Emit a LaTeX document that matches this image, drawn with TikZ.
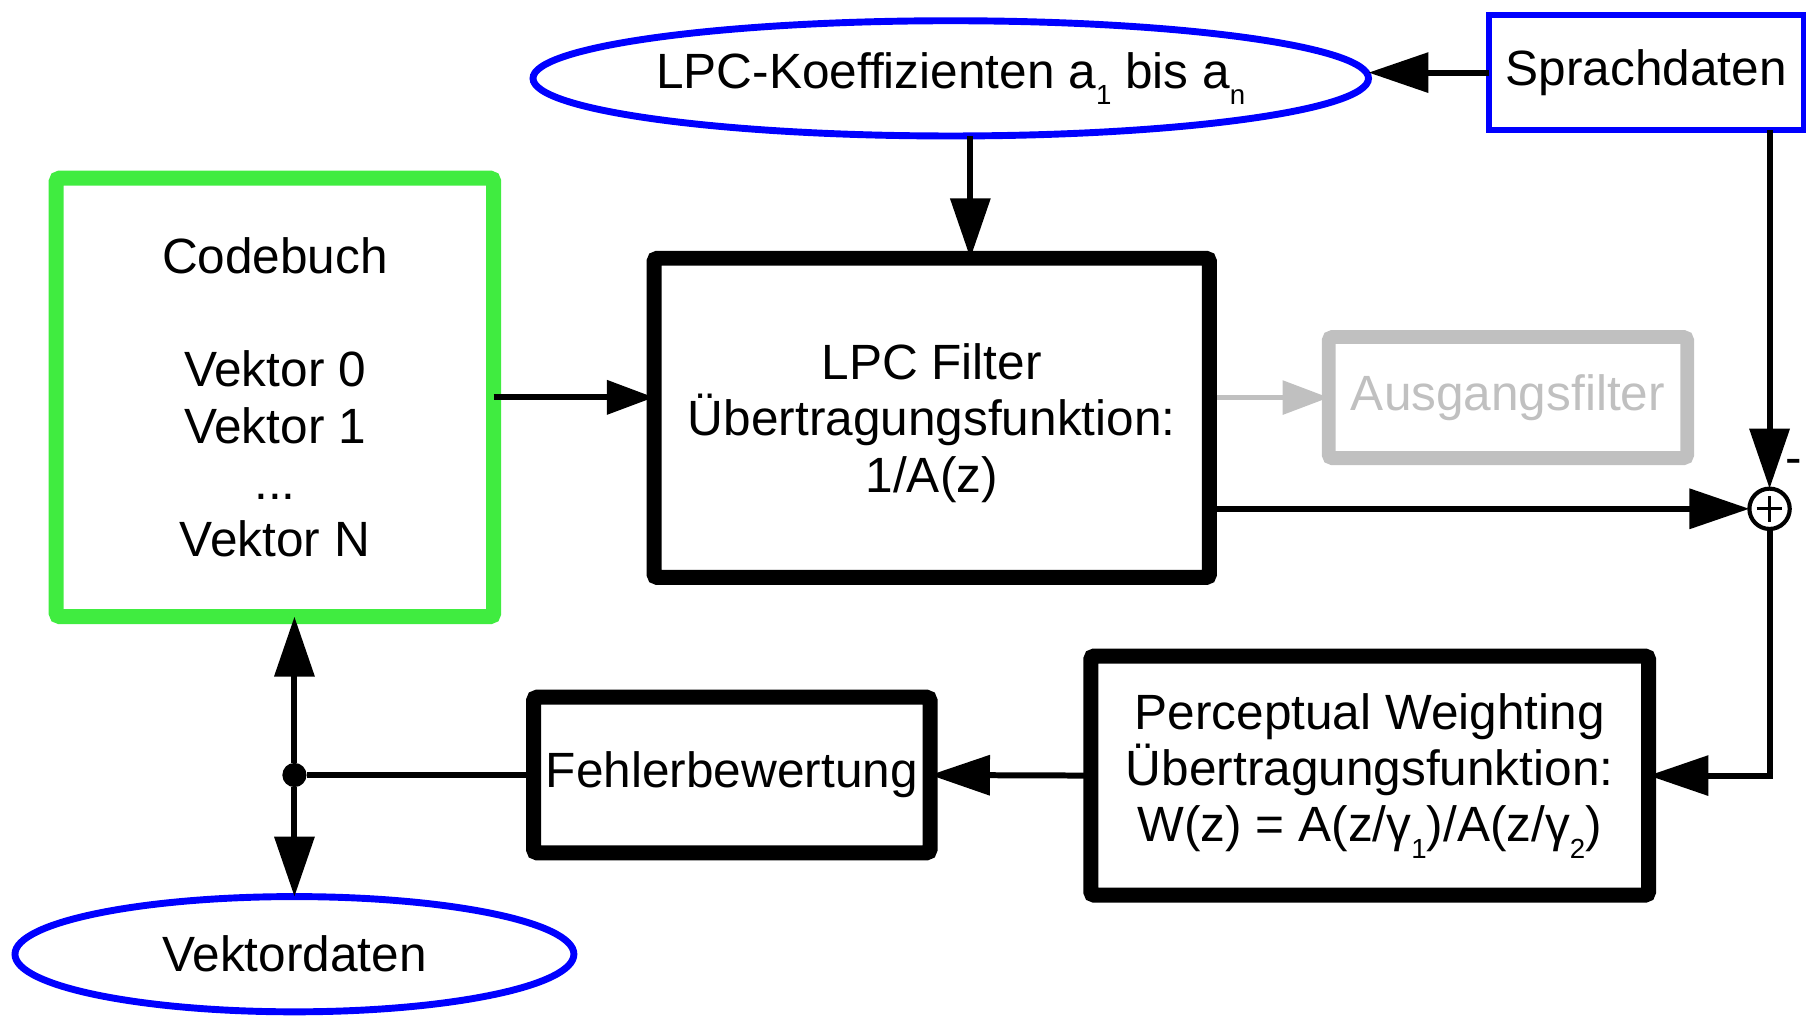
\documentclass[tikz,border=0pt]{standalone}
\usepackage{fontspec}
\setmainfont[Ligatures=NoCommon]{Liberation Sans}
\usetikzlibrary{arrows.meta,shapes.geometric}

\definecolor{cbgreen}{RGB}{64,236,64}
\definecolor{ltgray}{RGB}{192,192,192}
\definecolor{dblue}{RGB}{0,0,255}

% lowered small index (a_1, gamma_2, ...)
\newcommand{\lowidx}[1]{\raisebox{-7pt}{\fontsize{12pt}{12pt}\selectfont #1}}

\begin{document}
\begin{tikzpicture}[x=0.5pt,y=-0.5pt,
  every node/.style={inner sep=0pt, outer sep=0pt, align=center,
    font=\fontsize{21.5pt}{24.5pt}\selectfont},
  block/.style={draw, rectangle, line width=6.5pt, rounded corners=1.5pt},
  cbbox/.style={draw=cbgreen, rectangle, line width=6.5pt, rounded corners=1.5pt},
  greybox/.style={draw=ltgray, text=ltgray, rectangle, line width=6pt, rounded corners=1.5pt},
  bluebox/.style={draw=dblue, rectangle, line width=2.5pt},
  blueoval/.style={draw=dblue, ellipse, line width=3pt},
  sumnode/.style={draw, circle, line width=1.8pt, minimum size=17.5pt},
  dotnode/.style={circle, fill, minimum size=10.5pt},
  wire/.style={line width=2.6pt},
  flow/.style={wire, -{Triangle[length=26pt,width=17pt]}},
  flowsmall/.style={wire, -{Triangle[length=20.5pt,width=14.5pt]}},
  greyflow/.style={draw=ltgray, line width=2pt, shorten <=3.25pt,
    -{Triangle[length=20pt,width=14.5pt]}}
]
\useasboundingbox (0,0) rectangle (1568,882);

% blocks
\node[bluebox, minimum width=136.5pt, minimum height=50pt] (sprach) at (1428.5,63) {Sprachdaten};
\node[blueoval, minimum width=362.5pt, minimum height=50pt] (lpc) at (825,68)
  {LPC-Koeffizienten a\lowidx{1} bis a\lowidx{n}};
\node[cbbox, minimum width=189.8pt, minimum height=190.25pt] (cb) at (238.6,344.8)
  {Codebuch\\[24.5pt]Vektor 0\\Vektor 1\\...\\Vektor N};
\node[block, minimum width=241pt, minimum height=138.5pt] (lpcf) at (808.5,362.6)
  {\rule{0pt}{20pt}LPC Filter\\Übertragungsfunktion:\\1/A(z)};
\node[greybox, minimum width=155.5pt, minimum height=52.5pt] (ausg) at (1308.5,345) {Ausgangsfilter};
\node[sumnode] (sum) at (1535.5,441.5) {};
\node (minus) at ([xshift=10.5pt,yshift=18pt]sum.center) {-};
\node[block, minimum width=242pt, minimum height=103.75pt] (pw) at (1188.5,673)
  {Perceptual Weighting\\Übertragungsfunktion:\\W(z) = A(z/γ\lowidx{1})/A(z/γ\lowidx{2})};
\node[block, minimum width=172pt, minimum height=67.5pt] (fb) at (635,672.5) {Fehlerbewertung};
\node[blueoval, minimum width=242.5pt, minimum height=50pt] (vd) at (255.5,828) {Vektordaten};
\node[dotnode] (j) at (fb.west -| vd.north) {};

% plus sign of the summing point
\draw[line width=1.3pt] ([yshift=5.6pt]sum.center) -- ([yshift=-5.6pt]sum.center);
\draw[line width=1.3pt] ([xshift=-5.6pt]sum.center) -- ([xshift=5.6pt]sum.center);

% signal paths
\coordinate (lpcdrop) at ([xshift=8.5pt]lpc.south);
\draw[flow] (sprach.west) -- (sprach.west -| lpc.east);
\draw[flow] (lpcdrop) -- (lpcdrop |- lpcf.north);
\draw[flowsmall] (cb.east) -- (cb.east -| lpcf.west);
\draw[greyflow] (ausg.west -| lpcf.east) -- (ausg.west);
\draw[flow] (sum.west -| lpcf.east) -- (sum.west);
\draw[flow] (sum.north |- sprach.south) -- (sum.north);
\draw[flow] (sum.south) |- (pw.east);
\draw[flow] (pw.west) -- (fb.east);
\draw[wire] (fb.west) -- (j);
\draw[flow] (j) -- (j |- cb.south);
\draw[flow] (j) -- (vd.north);
\end{tikzpicture}
\end{document}
